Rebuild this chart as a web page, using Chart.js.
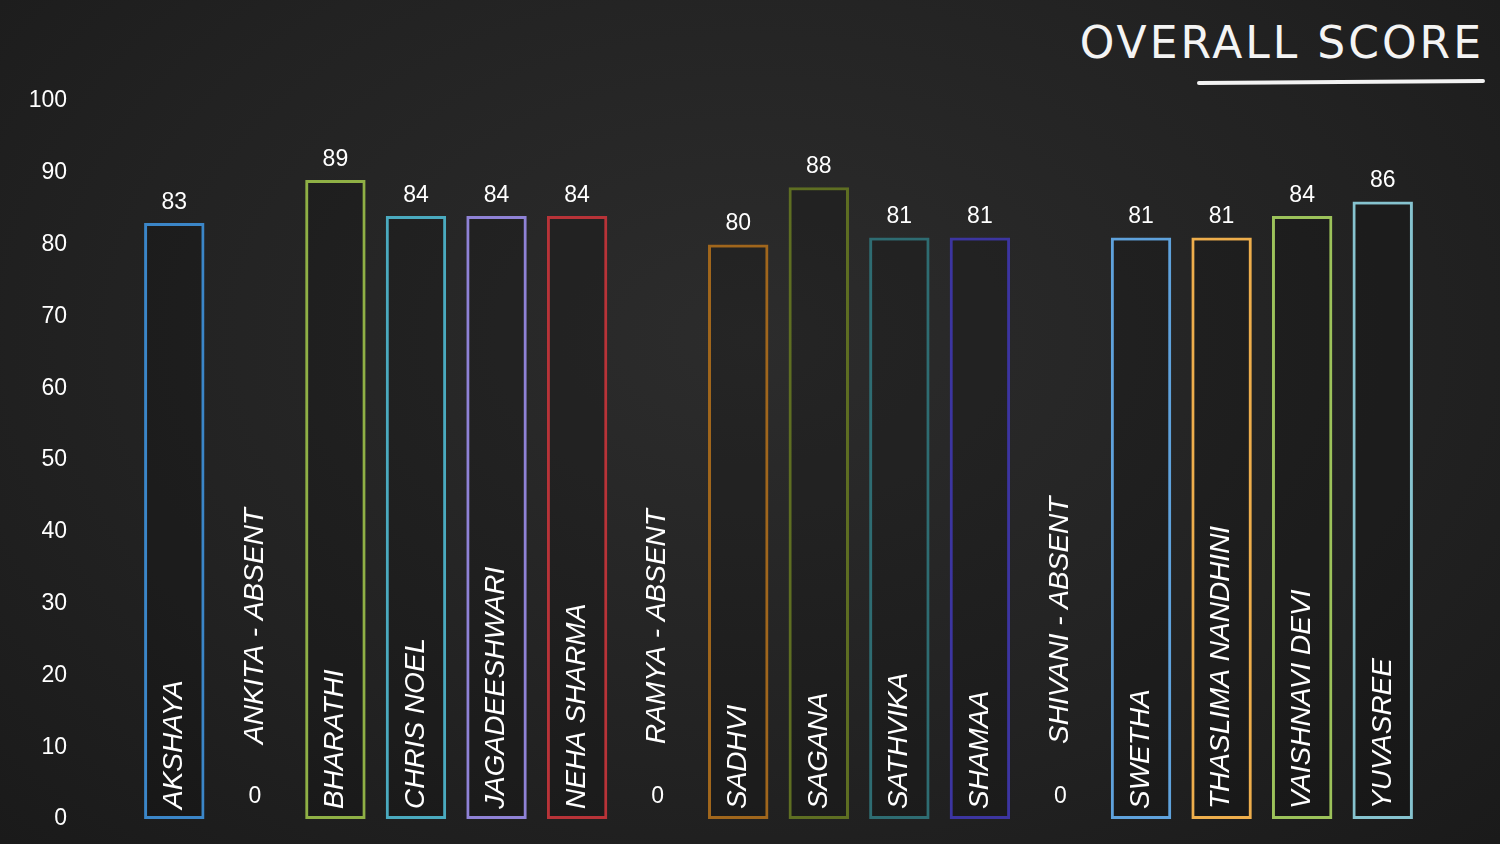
<!DOCTYPE html>
<html>
<head>
<meta charset="utf-8">
<script src="https://cdn.jsdelivr.net/npm/chart.js@4"></script>
<style>
  html, body { margin: 0; padding: 0; }
  body {
    width: 1500px; height: 844px; overflow: hidden;
    background: radial-gradient(ellipse at 50% 40%, #2c2c2c 0%, #222 60%, #1a1a1a 100%);
    position: relative;
  }
  #title {
    position: absolute; right: 16px; top: 17px;
    font-family: "DejaVu Sans", sans-serif; font-weight: normal;
    font-size: 44px; color: #f4f4f4; letter-spacing: 3px;
  }
  #uline {
    position: absolute; left: 1197px; top: 80px; width: 288px; height: 4px;
    background: #f2f2f2; border-radius: 2px; transform: rotate(-0.4deg);
  }
  #c { position: absolute; left: 0; top: 0; }
</style>
</head>
<body>
<div id="title">OVERALL SCORE</div>
<div id="uline"></div>
<canvas id="c" width="1500" height="844" style="width:1500px;height:844px"></canvas>
<script>
const names = ['AKSHAYA', 'ANKITA - ABSENT', 'BHARATHI', 'CHRIS NOEL', 'JAGADEESHWARI', 'NEHA SHARMA',
  'RAMYA - ABSENT', 'SADHVI', 'SAGANA', 'SATHVIKA', 'SHAMAA', 'SHIVANI - ABSENT', 'SWETHA',
  'THASLIMA NANDHINI', 'VAISHNAVI DEVI', 'YUVASREE'];
const scores = [83, 0, 89, 84, 84, 84, 0, 80, 88, 81, 81, 0, 81, 81, 84, 86];
const barColors = ['#3b86c8', '#888', '#8fb045', '#4aaabf', '#8f82d6', '#b83338', '#888', '#a0661c',
  '#5e6e22', '#2e6c72', '#3c35a0', '#888', '#5fa2dc', '#eeae4c', '#9cc25a', '#86c3cf'];

const barText = {
  id: 'barText',
  afterDatasetsDraw(chart) {
    const ctx = chart.ctx;
    const meta = chart.getDatasetMeta(0);
    const base = chart.scales.y.getPixelForValue(0);
    ctx.save();
    ctx.fillStyle = '#ffffff';
    meta.data.forEach((bar, i) => {
      const v = scores[i];
      ctx.font = '23px "Liberation Sans", Arial, sans-serif';
      ctx.textAlign = 'center';
      ctx.textBaseline = 'bottom';
      ctx.fillText(String(v), bar.x, v === 0 ? base - 11 : bar.y - 9);
      ctx.save();
      ctx.font = 'italic 28px "Liberation Sans", Arial, sans-serif';
      ctx.textAlign = 'left';
      ctx.textBaseline = 'middle';
      ctx.translate(bar.x, v === 0 ? base - 75 : base - 10);
      ctx.rotate(-Math.PI / 2);
      ctx.fillText(names[i], 0, 0);
      ctx.restore();
    });
    ctx.restore();
  }
};

new Chart(document.getElementById('c'), {
  type: 'bar',
  data: {
    labels: names,
    datasets: [{
      data: scores,
      backgroundColor: 'rgba(0,0,0,0.15)',
      borderColor: barColors,
      borderWidth: 3,
      borderSkipped: false,
      barPercentage: 0.75,
      categoryPercentage: 1
    }]
  },
  options: {
    responsive: false,
    animation: false,
    layout: { padding: { left: 0, right: 77, top: 101, bottom: 25 } },
    plugins: { legend: { display: false }, tooltip: { enabled: false } },
    scales: {
      x: { display: false },
      y: {
        min: 0, max: 100,
        afterFit(scale) { scale.width = 134; scale.paddingTop = 12; scale.paddingBottom = 12; },
        grid: { display: false },
        border: { display: false },
        ticks: {
          stepSize: 10, padding: 60, color: '#ffffff',
          font: { family: '"Liberation Sans", Arial, sans-serif', size: 23 }
        },
        afterUpdate(scale) { scale.options.ticks.padding = 59; }
      }
    }
  },
  plugins: [barText]
});
</script>
</body>
</html>
